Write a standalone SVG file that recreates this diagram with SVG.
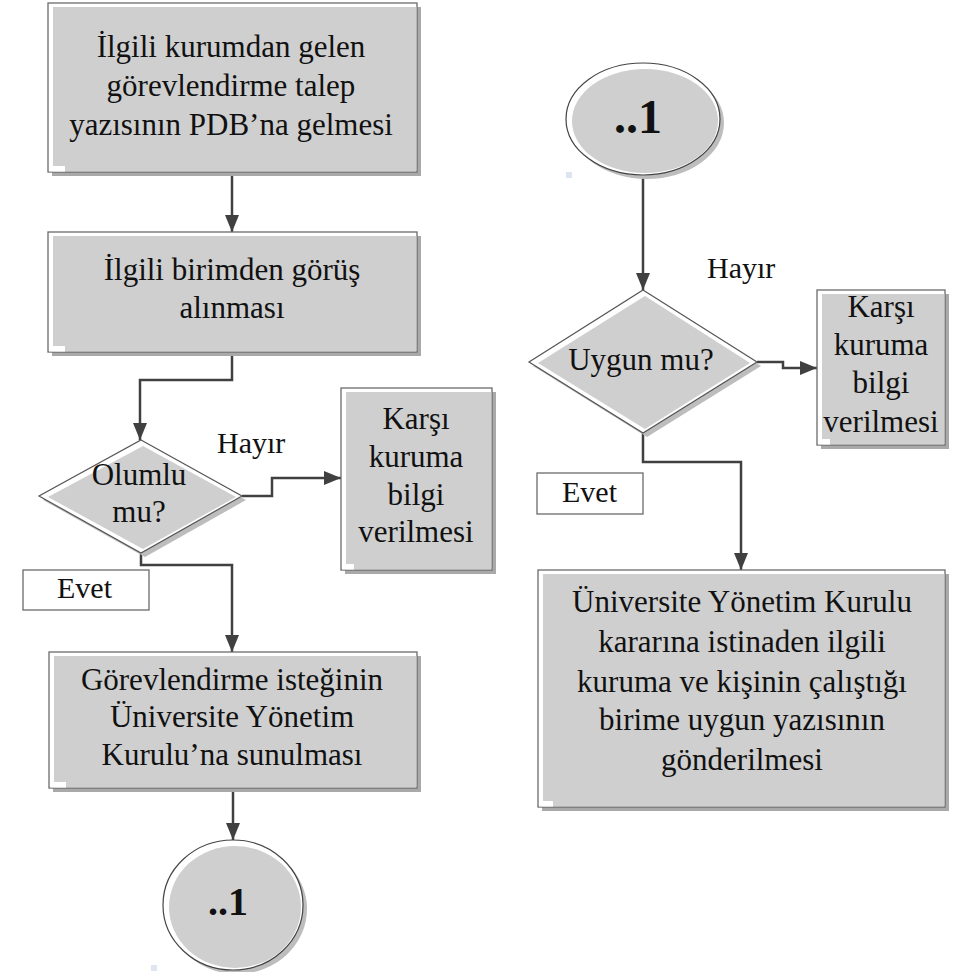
<svg xmlns="http://www.w3.org/2000/svg" width="965" height="972" viewBox="0 0 965 972">
  <style>
    text { font-family: "Liberation Serif", "Times New Roman", serif; fill: #111; }
    .t { font-size: 31px; text-anchor: middle; }
    .lbl { font-size: 30px; }
    .num { font-weight: bold; text-anchor: middle; }
    .shadow { fill: #a9a9a9; }
    .frame { fill: #ffffff; stroke: #6b6b6b; stroke-width: 1.3; }
    .fill { fill: #cfcfcf; }
    .tag { fill: #ffffff; stroke: #6b6b6b; stroke-width: 1.3; }
    .conn { fill: none; stroke: #404040; stroke-width: 2.5; marker-end: url(#arrow); }
    .dot { fill: #dde6f0; }
  </style>
  <defs>
    <marker id="arrow" viewBox="0 0 17 16" refX="17" refY="8" markerWidth="17" markerHeight="16" markerUnits="userSpaceOnUse" orient="auto">
      <path d="M0,1 L17,8 L0,15 z" fill="#404040"/>
    </marker>
  </defs>

  <rect width="965" height="972" fill="#ffffff"/>

  <!-- connectors -->
  <g id="connectors">
    <path class="conn" d="M232,172 V232"/>
    <path class="conn" d="M232,352 V380 H140 V440"/>
    <path class="conn" d="M242,496 H272 V478 H341"/>
    <path class="conn" d="M141,553 V565 H232 V652"/>
    <path class="conn" d="M233,788 V840"/>
    <path class="conn" d="M643,175 V290"/>
    <path class="conn" d="M757,362 H783 V368 H817"/>
    <path class="conn" d="M643,433 V462 H741 V570"/>
  </g>

  <!-- step 1 -->
  <g id="talep">
    <rect class="shadow" x="52" y="7" width="369" height="169"/>
    <rect class="frame" x="48" y="3" width="369" height="169"/>
    <rect class="fill" x="53" y="7" width="363.4" height="164.4"/>
    <rect fill="#ffffff" x="49" y="166" width="16" height="5.5"/>
    <text class="t" x="231" y="57">İlgili kurumdan  gelen</text>
    <text class="t" x="231" y="96">görevlendirme talep</text>
    <text class="t" x="231" y="135">yazısının  PDB’na gelmesi</text>
  </g>

  <!-- step 2 -->
  <g id="gorus">
    <rect class="shadow" x="52" y="236" width="369" height="120"/>
    <rect class="frame" x="48" y="232" width="369" height="120"/>
    <rect class="fill" x="53" y="236" width="363.4" height="115.4"/>
    <rect fill="#ffffff" x="49" y="346" width="16" height="5.5"/>
    <text class="t" x="232" y="280">İlgili birimden görüş</text>
    <text class="t" x="232" y="318">alınması</text>
  </g>

  <!-- decision 1 -->
  <g id="olumlu">
    <polygon points="145,444 246,500 145,557 43,500" fill="#bdbdbd"/>
    <polygon points="141,440 242,496 141,553 39,496" fill="#ffffff" stroke="#555" stroke-width="1.2"/>
    <polygon points="143,446 236,497 143,549 48,497" class="fill"/>
    <text class="t" x="139" y="485">Olumlu</text>
    <text class="t" x="139" y="522">mu?</text>
  </g>
  <text class="lbl" x="217" y="453">Hayır</text>

  <!-- info box 1 -->
  <g id="karsi1">
    <rect class="shadow" x="345" y="392" width="151" height="182"/>
    <rect class="frame" x="341" y="388" width="151" height="182"/>
    <rect class="fill" x="346" y="392" width="145.4" height="177.4"/>
    <rect fill="#ffffff" x="342" y="564" width="12" height="5.5"/>
    <text class="t" x="416" y="429">Karşı</text>
    <text class="t" x="416" y="467">kuruma</text>
    <text class="t" x="416" y="505">bilgi</text>
    <text class="t" x="416" y="542">verilmesi</text>
  </g>

  <!-- yes tag 1 -->
  <g id="evet1">
    <rect class="tag" x="23" y="570" width="126" height="40"/>
    <text class="lbl" x="57" y="598">Evet</text>
  </g>

  <!-- step 3 -->
  <g id="sunum">
    <rect class="shadow" x="53" y="656" width="368" height="136"/>
    <rect class="frame" x="49" y="652" width="368" height="136"/>
    <rect class="fill" x="54" y="656" width="362.4" height="131.4"/>
    <rect fill="#ffffff" x="50" y="782" width="16" height="5.5"/>
    <text class="t" x="232" y="690" font-size="32">Görevlendirme isteğinin</text>
    <text class="t" x="232" y="727" font-size="32">Üniversite Yönetim</text>
    <text class="t" x="232" y="765" font-size="32">Kurulu’na sunulması</text>
  </g>

  <!-- connector out -->
  <g id="baglanti1">
    <ellipse cx="237" cy="909" rx="70" ry="65" fill="#bdbdbd"/>
    <ellipse cx="233" cy="905" rx="70" ry="65" fill="#ffffff" stroke="#444" stroke-width="1.2"/>
    <ellipse cx="235" cy="907" rx="66" ry="61" class="fill"/>
    <text class="num" x="228" y="915" font-size="40">..1</text>
  </g>
  <rect class="dot" x="151" y="965" width="6" height="6"/>

  <!-- connector in -->
  <g id="baglanti2">
    <ellipse cx="647" cy="123" rx="77" ry="56" fill="#bdbdbd"/>
    <ellipse cx="643" cy="119" rx="77" ry="56" fill="#ffffff" stroke="#444" stroke-width="1.2"/>
    <ellipse cx="645" cy="121" rx="73" ry="52" class="fill"/>
    <text class="num" x="638" y="133" font-size="48">..1</text>
  </g>
  <rect class="dot" x="566" y="172" width="6" height="6"/>

  <text class="lbl" x="707" y="278">Hayır</text>

  <!-- decision 2 -->
  <g id="uygun">
    <polygon points="647,294 761,366 647,437 533,366" fill="#bdbdbd"/>
    <polygon points="643,290 757,362 643,433 529,362" fill="#ffffff" stroke="#555" stroke-width="1.2"/>
    <polygon points="645,296 750,363 645,429 538,363" class="fill"/>
    <text class="t" x="641" y="370">Uygun mu?</text>
  </g>

  <!-- info box 2 -->
  <g id="karsi2">
    <rect class="shadow" x="821" y="294" width="128" height="155"/>
    <rect class="frame" x="817" y="290" width="128" height="155"/>
    <rect class="fill" x="822" y="294" width="122.4" height="150.4"/>
    <rect fill="#ffffff" x="818" y="439" width="12" height="5.5"/>
    <text class="t" x="881" y="317">Karşı</text>
    <text class="t" x="881" y="355">kuruma</text>
    <text class="t" x="881" y="393">bilgi</text>
    <text class="t" x="881" y="432">verilmesi</text>
  </g>

  <!-- yes tag 2 -->
  <g id="evet2">
    <rect class="tag" x="537" y="473" width="106" height="41"/>
    <text class="lbl" x="562" y="502">Evet</text>
  </g>

  <!-- step 4 -->
  <g id="gonderim">
    <rect class="shadow" x="542" y="574" width="407" height="237"/>
    <rect class="frame" x="538" y="570" width="407" height="237"/>
    <rect class="fill" x="543" y="574" width="401.4" height="232.4"/>
    <rect fill="#ffffff" x="539" y="801" width="14" height="5.5"/>
    <text class="t" x="742" y="612">Üniversite Yönetim Kurulu</text>
    <text class="t" x="742" y="652">kararına istinaden  ilgili</text>
    <text class="t" x="742" y="692">kuruma  ve kişinin çalıştığı</text>
    <text class="t" x="742" y="730">birime uygun yazısının</text>
    <text class="t" x="742" y="770">gönderilmesi</text>
  </g>
</svg>
